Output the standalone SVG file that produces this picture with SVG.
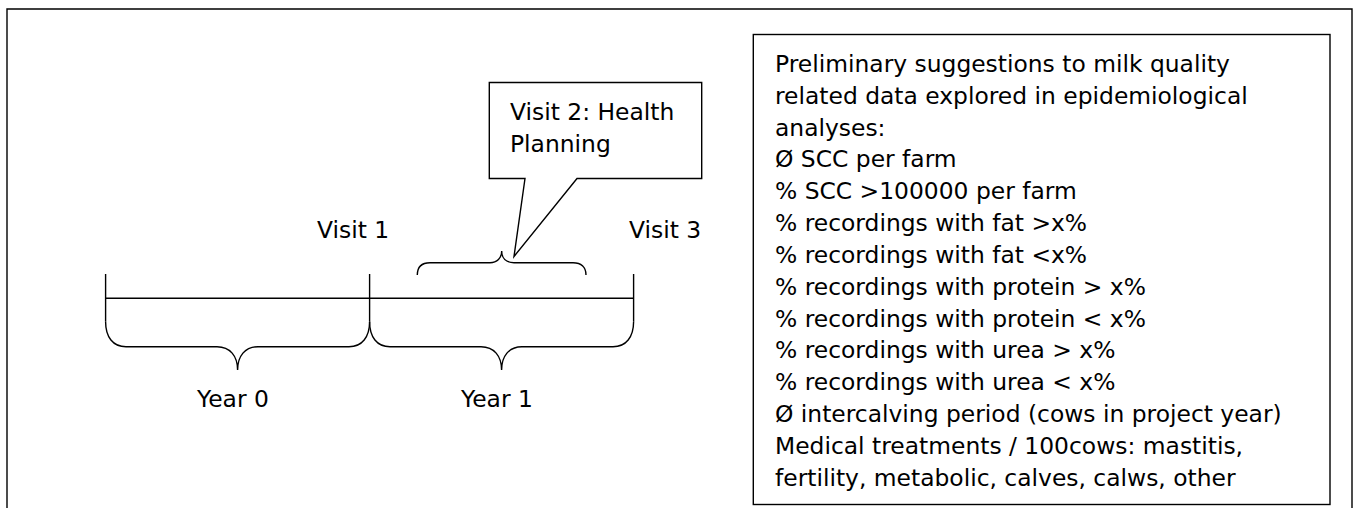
<svg xmlns="http://www.w3.org/2000/svg" width="1360" height="508" viewBox="0 0 1360 508">
<style>
.t{font-family:"DejaVu Sans",Verdana,sans-serif;font-size:23.4px;fill:#000}
.ln{fill:none;stroke:#000;stroke-width:1.4}
.bx{fill:#fff;stroke:#000;stroke-width:1.4}
</style>
<rect width="1360" height="508" fill="#fff"/>
<path id="frame" class="ln" d="M7,508 V9 H1352 V508"/>
<g id="connectors">
<path class="ln" d="M105.6,274 V321.7 M633.6,274 V321.7 M369.6,274 V321.7 M105.6,298.3 H633.6"/>
<path class="ln" d="M105.6,321.7 C105.6,337 113,346.7 126,346.7 H217 C230,346.7 237.6,356 237.6,370 C237.6,356 245,346.7 258,346.7 H349 C362,346.7 369.6,337 369.6,321.7"/>
<path class="ln" d="M369.6,321.7 C369.6,337 377,346.7 390,346.7 H481 C494,346.7 501.6,356 501.6,370 C501.6,356 509,346.7 522,346.7 H613 C626,346.7 633.6,337 633.6,321.7"/>
<path class="ln" d="M417.3,275 C417.3,267 422,262.7 430,262.7 H490 C497,262.7 501.7,258 501.7,251 C501.7,258 506,262.7 514,262.7 H573 C581,262.7 586,267 586,275"/>
</g>
<g id="callout">
<path class="bx" d="M525,178.5 H489.3 V82.5 H701.7 V178.5 H577 L514,256.5 Z"/>
<text class="t" x="510" y="120">Visit 2: Health</text>
<text class="t" x="510" y="151.7">Planning</text>
</g>
<g id="visit1"><text class="t" x="317" y="238.3">Visit 1</text></g>
<g id="visit3"><text class="t" x="629" y="238.3">Visit 3</text></g>
<g id="year0"><text class="t" x="197" y="406.7">Year 0</text></g>
<g id="year1"><text class="t" x="461" y="406.7">Year 1</text></g>
<g id="notes">
<rect class="bx" x="753.3" y="34.5" width="576.7" height="470"/>
<text class="t" x="775" y="71.8">Preliminary suggestions to milk quality</text>
<text class="t" x="775" y="103.65">related data explored in epidemiological</text>
<text class="t" x="775" y="135.5">analyses:</text>
<text class="t" x="775" y="167.35">Ø SCC per farm</text>
<text class="t" x="775" y="199.2">% SCC &gt;100000 per farm</text>
<text class="t" x="775" y="231.05">% recordings with fat &gt;x%</text>
<text class="t" x="775" y="262.9">% recordings with fat &lt;x%</text>
<text class="t" x="775" y="294.75">% recordings with protein &gt; x%</text>
<text class="t" x="775" y="326.6">% recordings with protein &lt; x%</text>
<text class="t" x="775" y="358.45">% recordings with urea &gt; x%</text>
<text class="t" x="775" y="390.3">% recordings with urea &lt; x%</text>
<text class="t" x="775" y="422.15">Ø intercalving period (cows in project year)</text>
<text class="t" x="775" y="454">Medical treatments / 100cows: mastitis,</text>
<text class="t" x="775" y="485.85">fertility, metabolic, calves, calws, other</text>
</g>
</svg>
